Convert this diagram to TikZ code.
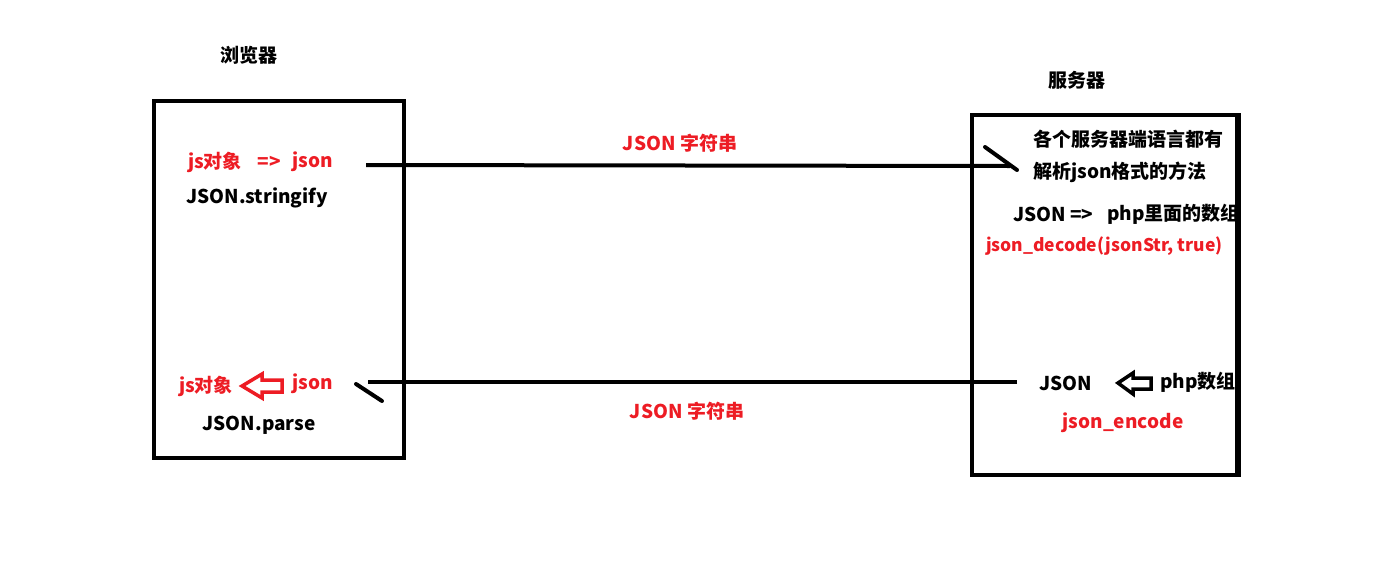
\documentclass[tikz,border=0pt]{standalone}
\usepackage{fontspec}
\setmainfont{Noto Sans CJK SC}
\definecolor{pred}{HTML}{ED1C24}
\tikzset{
  txt/.style={inner sep=0pt, font=\fontsize{19}{22}\selectfont\bfseries},
  rtxt/.style={txt, text=pred},
  box/.style={draw=black, line width=4pt},
  conn/.style={draw=black, line width=4pt},
  tick/.style={draw=black, line width=4pt, line cap=round},
  openarrow/.style={line width=3.5pt, line join=miter, fill=white}
}
\begin{document}
\begin{tikzpicture}[x=1pt,y=-1pt]
\useasboundingbox (0,0) rectangle (1386,560);
% boxes
\node[box, minimum width=250pt, minimum height=357pt, inner sep=0pt, anchor=north west] (browser) at (152,99) {};
\node[box, minimum width=265pt, minimum height=360pt, inner sep=0pt, anchor=north west] (server) at (970,113) {};
% titles
\node[txt] (tb) at (249,55) {浏览器};
\node[txt] (ts) at (1077,80) {服务器};
% browser texts
\node[rtxt] (jsobj1) at (215,162) {js对象};
\node[rtxt] (arr1) at (269,162) {=>};
\node[rtxt] (json1) at (313,162) {json};
\node[txt] (strfy) at (257,198) {JSON.stringify};
\node[rtxt] (jsobj2) at (206,386) {js对象};
\node[rtxt] (json2) at (313,384) {json};
\node[txt] (parse) at (259,425) {JSON.parse};
% middle labels
\node[rtxt] (lab1) at (680,143) {JSON 字符串};
\node[rtxt] (lab2) at (687,411) {JSON 字符串};
% server texts
\node[txt, anchor=west] (s1) at (1033,139) {各个服务器端语言都有};
\node[txt, anchor=west] (s2) at (1033,172) {解析json格式的方法};
\node[txt, anchor=west] (s3) at (1013,214) {JSON =>};
\node[txt, anchor=west] (s4) at (1107,214) {php里面的数组};
\node[rtxt, anchor=west, font=\fontsize{17.5}{21}\selectfont\bfseries] (s5) at (986,246) {json\_decode(jsonStr, true)};
\node[txt] (s6) at (1066,383) {JSON};
\node[txt, anchor=west] (s7) at (1160,382) {php数组};
\node[rtxt] (s8) at (1123,423) {json\_encode};
% redraw server right border above overflowing text
\draw[line width=4pt] (server.north east) -- (server.south east);
% connectors
\coordinate (t1) at (366,165);
\coordinate (t2) at (1010,166);
\coordinate (t3) at (985,147);
\coordinate (t4) at (1017,170);
\draw[conn] (t1) -- (t2);
\draw[tick] (t3) -- (t4);
\coordinate (b1) at (1017,382);
\coordinate (b2) at (368,382);
\coordinate (b3) at (356,384);
\coordinate (b4) at (382,401);
\draw[conn] (b1) -- (b2);
\draw[tick] (b3) -- (b4);
% open arrows
\draw[openarrow, draw=pred] (242,386) -- (262,374) -- (262,380) -- (282,380) -- (282,392) -- (262,392) -- (262,398) -- cycle;
\draw[openarrow, draw=black] (1118,383) -- (1133,373) -- (1133,378) -- (1151,378) -- (1151,389) -- (1133,389) -- (1133,394) -- cycle;
\end{tikzpicture}
\end{document}
